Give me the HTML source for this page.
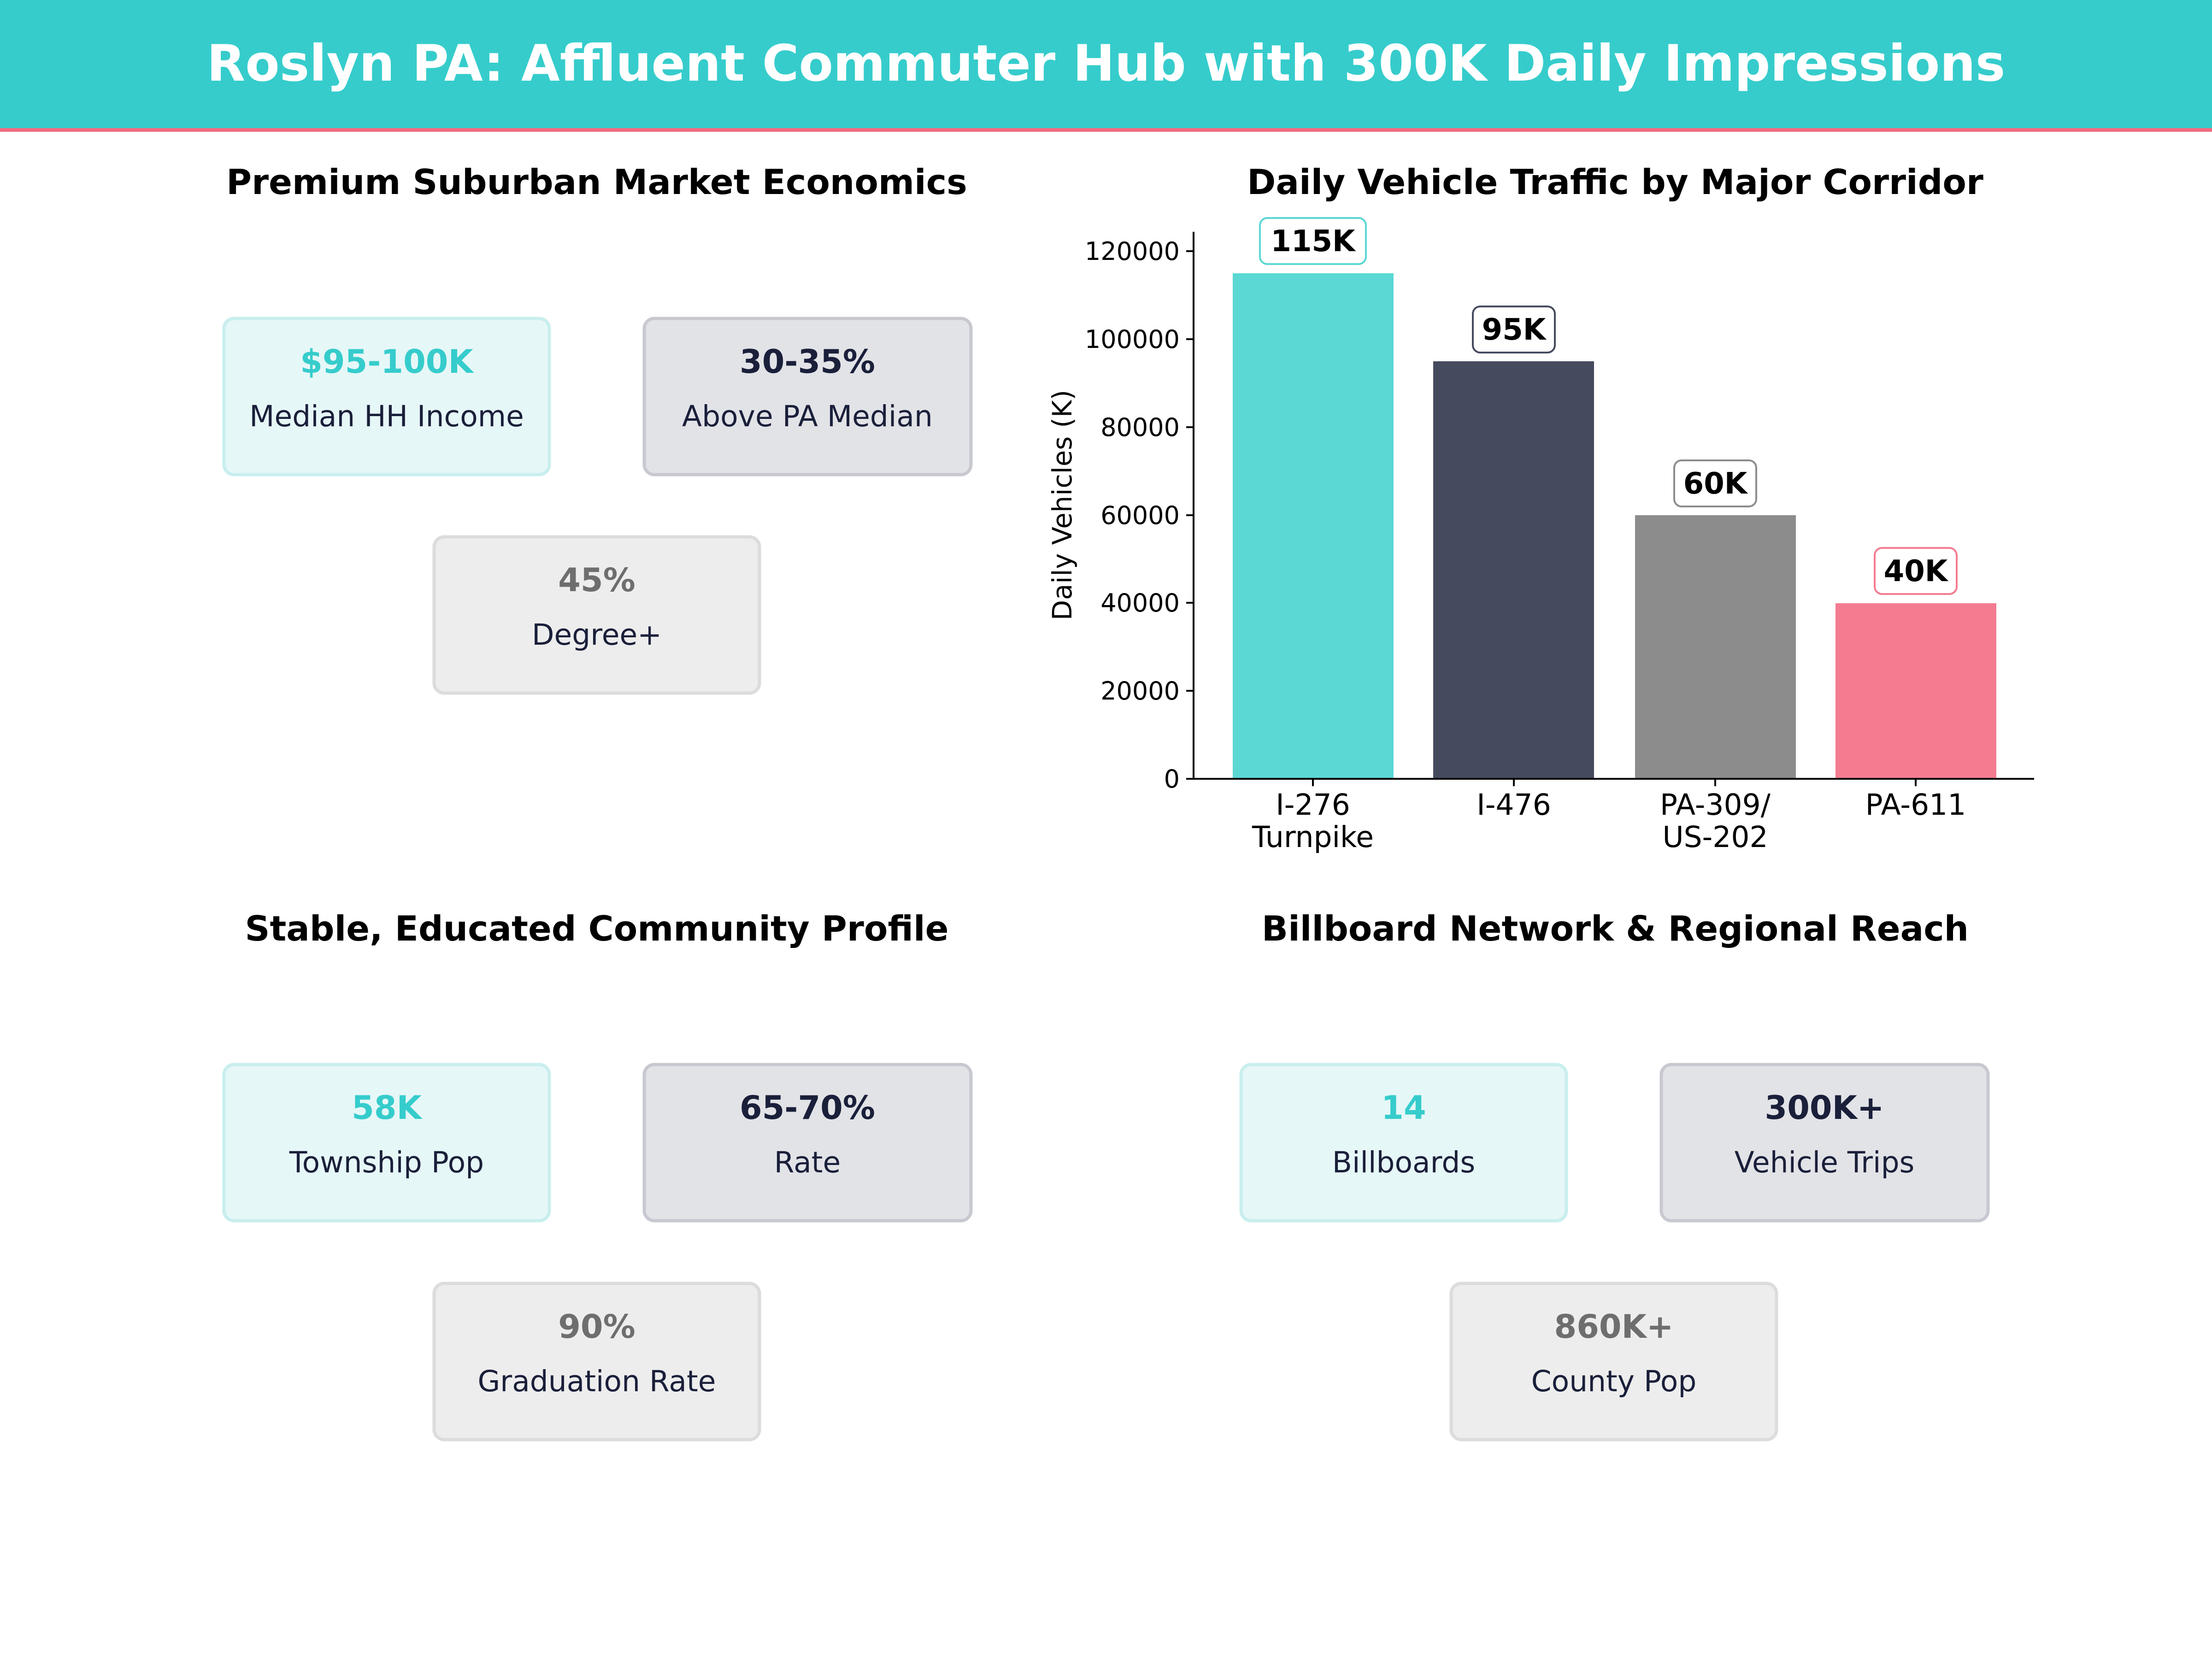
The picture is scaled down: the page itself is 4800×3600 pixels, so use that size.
<!DOCTYPE html>
<html><head><meta charset="utf-8"><style>
html,body{margin:0;padding:0;background:#fff}
svg{display:block}
text{font-family:"DejaVu Sans","Liberation Sans",sans-serif}
</style></head><body>
<svg width="4800" height="3600" viewBox="0 0 4800 3600" xmlns="http://www.w3.org/2000/svg">
<rect width="4800" height="3600" fill="#fff"/>
<rect x="0" y="0" width="4800" height="278" fill="#36CCCC"/>
<rect x="0" y="278" width="4800" height="8" fill="#F26B80"/>
<text x="2400" y="175" font-size="108.5" font-weight="bold" fill="#fff" text-anchor="middle">Roslyn PA: Affluent Commuter Hub with 300K Daily Impressions</text>

<g font-size="75" font-weight="bold" fill="#000" text-anchor="middle">
<text x="1295" y="421">Premium Suburban Market Economics</text>
<text x="3505" y="421">Daily Vehicle Traffic by Major Corridor</text>
<text x="1295" y="2041">Stable, Educated Community Profile</text>
<text x="3505" y="2041">Billboard Network &amp; Regional Reach</text>
</g>

<g text-anchor="middle">
<rect x="486" y="691" width="706" height="339" rx="22" fill="#E6F7F7" stroke="#C9EEEE" stroke-width="7"/>
<text x="839" y="809" font-size="70" font-weight="bold" fill="#36CCCC">$95-100K</text>
<text x="839" y="925" font-size="63" fill="#1A1F3A">Median HH Income</text>
<rect x="1398" y="691" width="709" height="339" rx="22" fill="#E2E3E7" stroke="#C8C9D0" stroke-width="7"/>
<text x="1752" y="809" font-size="70" font-weight="bold" fill="#1A1F3A">30-35%</text>
<text x="1752" y="925" font-size="63" fill="#1A1F3A">Above PA Median</text>
<rect x="942" y="1165" width="706" height="339" rx="22" fill="#EDEDED" stroke="#DCDCDC" stroke-width="7"/>
<text x="1295" y="1283" font-size="70" font-weight="bold" fill="#6E6E6E">45%</text>
<text x="1295" y="1399" font-size="63" fill="#1A1F3A">Degree+</text>

<rect x="486" y="2310" width="706" height="339" rx="22" fill="#E6F7F7" stroke="#C9EEEE" stroke-width="7"/>
<text x="839" y="2428" font-size="70" font-weight="bold" fill="#36CCCC">58K</text>
<text x="839" y="2544" font-size="63" fill="#1A1F3A">Township Pop</text>
<rect x="1398" y="2310" width="709" height="339" rx="22" fill="#E2E3E7" stroke="#C8C9D0" stroke-width="7"/>
<text x="1752" y="2428" font-size="70" font-weight="bold" fill="#1A1F3A">65-70%</text>
<text x="1752" y="2544" font-size="63" fill="#1A1F3A">Rate</text>
<rect x="942" y="2785" width="706" height="339" rx="22" fill="#EDEDED" stroke="#DCDCDC" stroke-width="7"/>
<text x="1295" y="2903" font-size="70" font-weight="bold" fill="#6E6E6E">90%</text>
<text x="1295" y="3019" font-size="63" fill="#1A1F3A">Graduation Rate</text>

<rect x="2693" y="2310" width="706" height="339" rx="22" fill="#E6F7F7" stroke="#C9EEEE" stroke-width="7"/>
<text x="3046" y="2428" font-size="70" font-weight="bold" fill="#36CCCC">14</text>
<text x="3046" y="2544" font-size="63" fill="#1A1F3A">Billboards</text>
<rect x="3605" y="2310" width="709" height="339" rx="22" fill="#E2E3E7" stroke="#C8C9D0" stroke-width="7"/>
<text x="3959" y="2428" font-size="70" font-weight="bold" fill="#1A1F3A">300K+</text>
<text x="3959" y="2544" font-size="63" fill="#1A1F3A">Vehicle Trips</text>
<rect x="3149" y="2785" width="706" height="339" rx="22" fill="#EDEDED" stroke="#DCDCDC" stroke-width="7"/>
<text x="3502" y="2903" font-size="70" font-weight="bold" fill="#6E6E6E">860K+</text>
<text x="3502" y="3019" font-size="63" fill="#1A1F3A">County Pop</text>
</g>

<rect x="2675" y="593" width="349" height="1097" fill="#5BD7D4"/>
<rect x="3110" y="784" width="349" height="906" fill="#454A5E"/>
<rect x="3548" y="1118" width="349" height="572" fill="#8C8C8C"/>
<rect x="3983" y="1309" width="349" height="381" fill="#F47C90"/>
<line x1="2590" y1="503" x2="2590" y2="1692" stroke="#000" stroke-width="4"/>
<line x1="2588" y1="1690" x2="4414" y2="1690" stroke="#000" stroke-width="4"/>
<g stroke="#000" stroke-width="4">
<line x1="2574" y1="1690" x2="2590" y2="1690"/>
<line x1="2574" y1="1499" x2="2590" y2="1499"/>
<line x1="2574" y1="1308" x2="2590" y2="1308"/>
<line x1="2574" y1="1118" x2="2590" y2="1118"/>
<line x1="2574" y1="927" x2="2590" y2="927"/>
<line x1="2574" y1="736" x2="2590" y2="736"/>
<line x1="2574" y1="545" x2="2590" y2="545"/>
<line x1="2849" y1="1690" x2="2849" y2="1706"/>
<line x1="3285" y1="1690" x2="3285" y2="1706"/>
<line x1="3722" y1="1690" x2="3722" y2="1706"/>
<line x1="4157" y1="1690" x2="4157" y2="1706"/>
</g>
<g font-size="54" fill="#000" text-anchor="end">
<text x="2560" y="1709">0</text>
<text x="2560" y="1518">20000</text>
<text x="2560" y="1327">40000</text>
<text x="2560" y="1137">60000</text>
<text x="2560" y="946">80000</text>
<text x="2560" y="755">100000</text>
<text x="2560" y="564">120000</text>
</g>
<text transform="translate(2325,1096) rotate(-90)" font-size="57.5" text-anchor="middle" fill="#000">Daily Vehicles (K)</text>
<g font-size="63" fill="#000" text-anchor="middle">
<text x="2849" y="1768">I-276</text>
<text x="2849" y="1838">Turnpike</text>
<text x="3285" y="1768">I-476</text>
<text x="3722" y="1768">PA-309/</text>
<text x="3722" y="1838">US-202</text>
<text x="4157" y="1768">PA-611</text>
</g>
<g font-size="64" font-weight="bold" text-anchor="middle" fill="#000">
<rect x="2734" y="473" width="230" height="100" rx="16" fill="#fff" stroke="#5BD7D4" stroke-width="4"/>
<text x="2849" y="545">115K</text>
<rect x="3196" y="665" width="178" height="100" rx="16" fill="#fff" stroke="#454A5E" stroke-width="4"/>
<text x="3285" y="737">95K</text>
<rect x="3633" y="999" width="178" height="100" rx="16" fill="#fff" stroke="#8C8C8C" stroke-width="4"/>
<text x="3722" y="1071">60K</text>
<rect x="4068" y="1189" width="178" height="100" rx="16" fill="#fff" stroke="#F47C90" stroke-width="4"/>
<text x="4157" y="1261">40K</text>
</g>
</svg>
</body></html>
